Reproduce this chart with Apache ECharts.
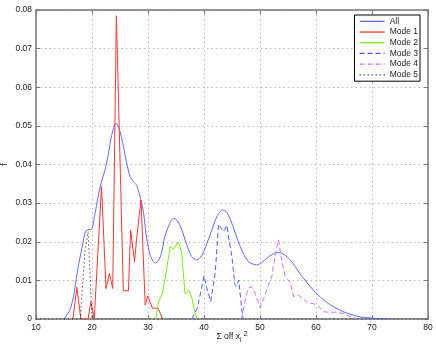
<!DOCTYPE html>
<html>
<head>
<meta charset="utf-8">
<script src="https://cdn.jsdelivr.net/npm/echarts/dist/echarts.min.js"></script>
<style>
  html, body { margin: 0; padding: 0; background: #fff; }
  #main { width: 436px; height: 348px; }
</style>
</head>
<body>
<div id="main"></div>
<script>
// 读图估计的数据 [x, f]
var allData = [
  [15.0, 0], [16.0, 0.0022], [16.7, 0.0058], [17.3, 0.0115], [17.8, 0.0155], [18.3, 0.019],
  [18.8, 0.0225], [19.3, 0.0231], [19.9, 0.0232], [20.5, 0.027], [21.1, 0.0317], [21.7, 0.0356],
  [22.3, 0.0385], [22.9, 0.0425], [23.5, 0.0475], [24.3, 0.0507], [24.9, 0.049], [25.5, 0.0455],
  [26.1, 0.041], [26.8, 0.0369], [27.4, 0.0356], [28.0, 0.0345], [28.7, 0.031], [29.2, 0.0275],
  [29.8, 0.0205], [30.4, 0.0165], [30.9, 0.015], [31.3, 0.0145], [31.8, 0.015], [32.4, 0.017],
  [33.0, 0.0213], [33.9, 0.0248], [34.5, 0.026], [35.1, 0.0257], [36.0, 0.0232], [36.9, 0.0193],
  [37.8, 0.0162], [38.7, 0.0153], [39.6, 0.0164], [40.5, 0.0195], [41.4, 0.023], [42.3, 0.0265],
  [43.3, 0.0282], [44.1, 0.0276], [45.2, 0.0239], [46.0, 0.0205], [47.0, 0.017], [48.0, 0.0148],
  [49.4, 0.014], [50.3, 0.0146], [51.2, 0.0157], [52.3, 0.0168], [53.3, 0.0172], [54.3, 0.0167],
  [55.4, 0.0153], [56.3, 0.0136], [57.1, 0.0118], [58.3, 0.0096], [59.5, 0.0075], [61.3, 0.005],
  [63.1, 0.0032], [65.0, 0.0018], [66.7, 0.001], [68.0, 0.0005], [69.6, 0.0003], [71.0, 0.0001],
  [73.0, 0]
];
var mode1Data = [
  [16.6, 0], [17.3, 0.0082], [18.0, 0], [19.3, 0], [19.8, 0.0045], [20.4, 0], [20.5, 0],
  [21.7, 0.0343], [22.5, 0.0079], [23.1, 0.0118], [23.7, 0.0079], [24.35, 0.0785], [25.6, 0.0073],
  [26.5, 0.0073], [26.9, 0.023], [27.6, 0.0148], [28.0, 0.0213], [28.75, 0.0308], [29.5, 0.0036],
  [29.95, 0.006], [30.8, 0.0028], [31.8, 0.0028], [32.6, 0]
];
var mode2Data = [
  [31.4, 0], [31.9, 0.0045], [32.6, 0.0066], [33.2, 0.0118], [34.0, 0.0188], [34.5, 0.0181],
  [35.4, 0.0199], [36.0, 0.0174], [36.6, 0.0066], [37.3, 0.0075], [37.8, 0.0056], [38.4, 0.0015],
  [38.8, 0]
];
var mode3Data = [
  [37.8, 0], [38.8, 0.0028], [39.5, 0.0075], [40.0, 0.0112], [40.5, 0.008], [41.2, 0.0045],
  [42.0, 0.0118], [42.6, 0.0245], [43.1, 0.0235], [43.5, 0.0226], [44.1, 0.0243], [44.4, 0.021],
  [45.0, 0.016], [45.5, 0.009], [45.8, 0.0084], [46.2, 0.0101], [46.7, 0.003], [47.0, 0]
];
var mode4Data = [
  [46.7, 0], [47.6, 0.0066], [48.2, 0.0084], [48.8, 0.0079], [49.4, 0.0055], [50.0, 0.003],
  [50.6, 0.005], [51.2, 0.0075], [52.1, 0.011], [52.7, 0.0166], [53.3, 0.0205], [53.9, 0.015],
  [54.5, 0.011], [55.4, 0.0095], [56.0, 0.0058], [56.8, 0.0062], [57.7, 0.0053], [58.6, 0.004],
  [59.5, 0.004], [60.4, 0.0034], [61.3, 0.0019], [62.5, 0.0017], [63.4, 0.0018], [64.9, 0.0014],
  [66.1, 0.0006], [67.5, 0]
];
var mode5Data = [
  [10, 0], [17.9, 0], [18.75, 0.0175], [19.3, 0.0225], [20.0, 0], [80, 0]
];
var seriesNames = ['All', 'Mode 1', 'Mode 2', 'Mode 3', 'Mode 4', 'Mode 5'];

var chart = echarts.init(document.getElementById('main'), null, { renderer: 'canvas' });

var font = 'Liberation Sans, Arial, sans-serif';
var axisGrey = '#777';
var gridLine = { show: true, lineStyle: { type: [1.5, 3], color: '#bbb', width: 1 } };

function boxAxis(pos, isX, showLabel) {
  var ax = {
    type: 'value',
    position: pos,
    nameMoveOverlap: false,
    axisLine: { show: true, onZero: false, lineStyle: { color: axisGrey, width: 1.5 } },
    axisTick: { show: true, inside: true, length: 4, lineStyle: { color: axisGrey } },
    axisLabel: { show: showLabel, fontSize: 8.5, color: '#222', fontFamily: font, margin: 4 },
    splitLine: showLabel ? gridLine : { show: false }
  };
  if (isX) {
    ax.min = 10; ax.max = 80; ax.interval = 10;
  } else {
    ax.min = 0; ax.max = 0.08; ax.interval = 0.01;
  }
  return ax;
}

var xBottom = boxAxis('bottom', true, true);
xBottom.name = '{a|Σ off x}{b|i}{c| 2}';
xBottom.nameLocation = 'middle';
xBottom.nameGap = 11;
xBottom.nameTextStyle = {
  fontFamily: font,
  rich: {
    a: { fontSize: 8.5, color: '#222', lineHeight: 14, verticalAlign: 'middle', fontFamily: font },
    b: { fontSize: 6.5, color: '#222', lineHeight: 14, verticalAlign: 'bottom', fontFamily: font },
    c: { fontSize: 7.5, color: '#222', lineHeight: 14, verticalAlign: 'top', fontFamily: font }
  }
};
var xTop = boxAxis('top', true, false);

var yLeft = boxAxis('left', false, true);
yLeft.name = 'f';
yLeft.nameLocation = 'middle';
yLeft.nameGap = 27;
yLeft.nameTextStyle = { fontSize: 8.5, color: '#222', fontFamily: font };
var yRight = boxAxis('right', false, false);

function lineSeries(name, data, color, type, width, smooth) {
  return {
    name: name,
    type: 'line',
    data: data,
    symbol: 'none',
    smooth: smooth || false,
    animation: false,
    lineStyle: { color: color, width: width, type: type },
    itemStyle: { color: color }
  };
}

var option = {
  animation: false,
  grid: { left: 36, right: 8, top: 10, bottom: 29, outerBoundsMode: 'none', containLabel: false },
  xAxis: [xBottom, xTop],
  yAxis: [yLeft, yRight],
  legend: {
    data: seriesNames,
    orient: 'vertical',
    right: 16,
    top: 15,
    align: 'left',
    itemWidth: 25,
    itemHeight: 6,
    itemGap: 0,
    itemTextGap: 3,
    padding: [1, 2, 1, 4.5],
    backgroundColor: '#fff',
    borderColor: '#000',
    borderWidth: 1,
    borderRadius: 0,
    itemStyle: { opacity: 0 },
    lineStyle: { width: 1.3 },
    textStyle: { fontSize: 8.5, color: '#222', fontFamily: font, lineHeight: 10.7 }
  },
  series: [
    lineSeries(seriesNames[0], allData, '#5b6cff', 'solid', 1, 0.3),
    lineSeries(seriesNames[1], mode1Data, '#ff3535', 'solid', 1),
    lineSeries(seriesNames[2], mode2Data, '#77ee11', 'solid', 1),
    lineSeries(seriesNames[3], mode3Data, '#4d5dff', [5, 3], 1),
    lineSeries(seriesNames[4], mode4Data, '#d070ff', [5, 3], 1),
    lineSeries(seriesNames[5], mode5Data, '#000', [1, 3], 1)
  ]
};

chart.setOption(option);
</script>
</body>
</html>
